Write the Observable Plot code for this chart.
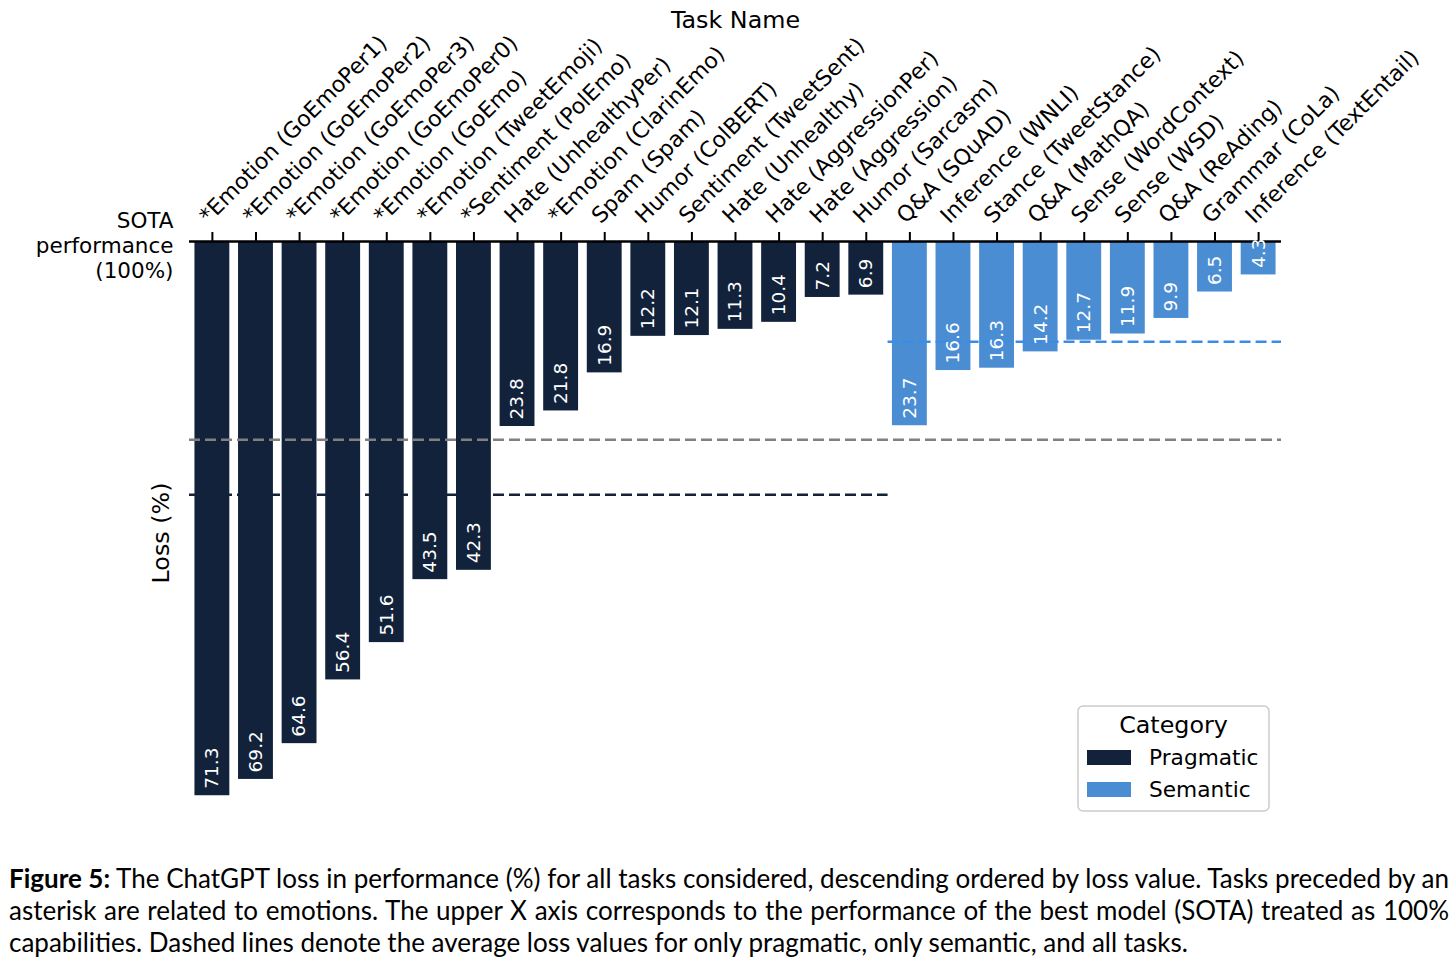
<!DOCTYPE html>
<html>
<head>
<meta charset="utf-8">
<script src="https://cdn.jsdelivr.net/npm/d3@7"></script>
<script src="https://cdn.jsdelivr.net/npm/@observablehq/plot@0.6"></script>
<style>
  body { margin: 0; background: #fff; }
  #wrap { position: relative; width: 1456px; height: 967px; overflow: hidden; }
  #chart svg { display: block; }
  #caption { position: absolute; left: 9px; top: 862px; width: 1440px; font-family: Lato, sans-serif; font-size: 26px; line-height: 32px; color: #000; }
  #caption .ln { text-align: justify; text-align-last: justify; white-space: nowrap; }
  #caption .ln.last { text-align-last: left; }
</style>
</head>
<body>
<div id="wrap">
  <div id="chart"></div>
  <div id="caption">
    <div class="ln"><b>Figure 5:</b> The ChatGPT loss in performance (%) for all tasks considered, descending ordered by loss value. Tasks preceded by an</div>
    <div class="ln">asterisk are related to emotions. The upper X axis corresponds to the performance of the best model (SOTA) treated as 100%</div>
    <div class="ln last">capabilities. Dashed lines denote the average loss values for only pragmatic, only semantic, and all tasks.</div>
  </div>
</div>
<script>
const tasks = [
  "*Emotion (GoEmoPer1)", "*Emotion (GoEmoPer2)", "*Emotion (GoEmoPer3)", "*Emotion (GoEmoPer0)",
  "*Emotion (GoEmo)", "*Emotion (TweetEmoji)", "*Sentiment (PolEmo)", "Hate (UnhealthyPer)",
  "*Emotion (ClarinEmo)", "Spam (Spam)", "Humor (ColBERT)", "Sentiment (TweetSent)",
  "Hate (Unhealthy)", "Hate (AggressionPer)", "Hate (Aggression)", "Humor (Sarcasm)",
  "Q&A (SQuAD)", "Inference (WNLI)", "Stance (TweetStance)", "Q&A (MathQA)",
  "Sense (WordContext)", "Sense (WSD)", "Q&A (ReAding)", "Grammar (CoLa)", "Inference (TextEntail)"
];
const losses = [
  71.3, 69.2, 64.6, 56.4, 51.6, 43.5, 42.3, 23.8, 21.8, 16.9, 12.2, 12.1, 11.3, 10.4, 7.2, 6.9,
  23.7, 16.6, 16.3, 14.2, 12.7, 11.9, 9.9, 6.5, 4.3
];
const taskCategory = [
  "Pragmatic", "Pragmatic", "Pragmatic", "Pragmatic", "Pragmatic", "Pragmatic", "Pragmatic", "Pragmatic",
  "Pragmatic", "Pragmatic", "Pragmatic", "Pragmatic", "Pragmatic", "Pragmatic", "Pragmatic", "Pragmatic",
  "Semantic", "Semantic", "Semantic", "Semantic", "Semantic", "Semantic", "Semantic", "Semantic", "Semantic"
];
const categories = ["Pragmatic", "Semantic"];
const barColors = ["#12223a", "#4b8dd3"];
const avgColors = ["#12223a", "#3a8ce8"];
const allAvgColor = "#808080";
const yTickLabel = "SOTA\nperformance\n(100%)";
const xTitle = "Task Name";
const yTitle = "Loss (%)";
const legendTitle = "Category";

const FONT = "DejaVu Sans";
const data = tasks.map((t, i) => ({task: t, loss: losses[i], category: taskCategory[i]}));
const groupAvgs = categories.map((c, k) => {
  const rows = data.filter(d => d.category === c);
  return {category: c, mean: d3.mean(rows, d => d.loss), first: rows[0].task, last: rows[rows.length - 1].task, color: avgColors[k]};
});
const allAvg = d3.mean(data, d => d.loss);

const step = 1092 / 25.05;
const chart = Plot.plot({
  width: 1456,
  height: 840,
  marginLeft: 189,
  marginRight: 175,
  marginTop: 241,
  marginBottom: 16,
  x: {domain: tasks, paddingInner: 0.2, paddingOuter: 0.125, round: false, axis: null},
  y: {domain: [0, 75], range: [241, 824], axis: null},
  color: {domain: categories, range: barColors},
  style: {fontFamily: FONT, color: "#000", overflow: "visible", background: "#fff"},
  marks: [
    Plot.barY(data, {x: "task", y: "loss", fill: "category"}),
    Plot.ruleY([allAvg], {stroke: allAvgColor, strokeWidth: 2.5, strokeDasharray: "11,5"}),
    Plot.ruleY([groupAvgs[0]], {
      y: "mean", x1: "first", x2: "last", stroke: "color", strokeWidth: 2.5, strokeDasharray: "11,5",
      insetLeft: -0.125 * step, insetRight: -0.1 * step
    }),
    Plot.ruleY([groupAvgs[1]], {
      y: "mean", x1: "first", x2: "last", stroke: "color", strokeWidth: 2.5, strokeDasharray: "11,5",
      insetLeft: -0.1 * step, insetRight: -0.125 * step
    }),
    Plot.ruleY([0], {stroke: "#000", strokeWidth: 2.5}),
    Plot.axisX({anchor: "top", tickSize: 10, tickFormat: () => "", label: null, strokeWidth: 2}),
    Plot.text(data, {
      x: "task", y: "loss", text: d => d.loss.toFixed(1), rotate: -90, textAnchor: "start",
      lineAnchor: "middle", dy: -7, fill: "white", fontSize: 18.5
    }),
    Plot.text(tasks, {x: d => d, frameAnchor: "top", rotate: -45, textAnchor: "start", lineAnchor: "bottom", dx: -4, dy: -17, fontSize: 22}),
    Plot.text([xTitle], {frameAnchor: "top", dy: -214, lineAnchor: "bottom", fontSize: 23.8}),
    Plot.text([yTickLabel], {frameAnchor: "top-left", dx: -16, dy: 3.5, textAnchor: "end", lineAnchor: "middle", fontSize: 21.5, lineHeight: 1.15}),
    Plot.text([yTitle], {frameAnchor: "left", rotate: -90, dx: -21, textAnchor: "middle", lineAnchor: "bottom", fontSize: 23.8})
  ]
});
document.getElementById("chart").appendChild(chart);

const svg = d3.select(chart);
const colorScale = chart.scale("color");
const lg = svg.append("g").attr("font-family", FONT).attr("text-anchor", "start");
lg.append("rect").attr("x", 1078).attr("y", 706).attr("width", 191).attr("height", 105)
  .attr("rx", 5).attr("fill", "#fff").attr("fill-opacity", 0.8).attr("stroke", "#cccccc").attr("stroke-width", 1.5);
lg.append("text").attr("x", 1173.5).attr("y", 733).attr("text-anchor", "middle").attr("font-size", 23.8).text(legendTitle);
colorScale.domain.forEach((c, i) => {
  lg.append("rect").attr("x", 1087).attr("y", 750 + i * 32).attr("width", 44).attr("height", 15).attr("fill", colorScale.apply(c));
  lg.append("text").attr("x", 1149).attr("y", 765 + i * 32).attr("font-size", 21.7).text(c);
});
</script>
</body>
</html>
